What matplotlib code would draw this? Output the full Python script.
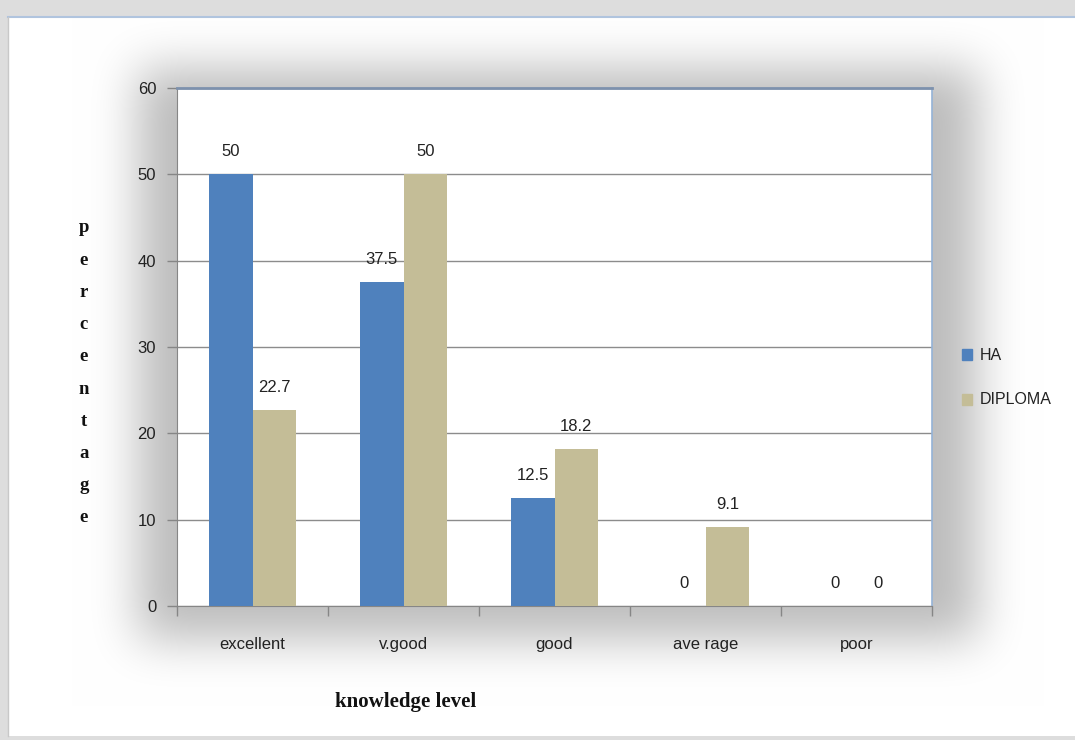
import matplotlib
matplotlib.use('Agg')
import matplotlib.pyplot as plt
import numpy as np
from matplotlib.patches import Rectangle

# ── Data ──────────────────────────────────────────────────────────────────────
categories = ['excellent', 'v.good', 'good', 'ave rage', 'poor']
ha_vals = [50, 37.5, 12.5, 0, 0]
diploma_vals = [22.7, 50, 18.2, 9.1, 0]
y_ticks = [0, 10, 20, 30, 40, 50, 60]

HA_COLOR = '#4F81BD'
DIP_COLOR = '#C4BD97'
TXT_FONT = ['Liberation Sans Narrow', 'Liberation Sans', 'DejaVu Sans']
SERIF = ['Liberation Serif', 'DejaVu Serif']

W, H = 1075, 740
fig = plt.figure(figsize=(W / 100, H / 100), dpi=100)
fig.patch.set_facecolor('#dedede')

# ── Background panel with soft shadow behind the plot area ───────────────────
bg = fig.add_axes([0, 0, 1, 1], zorder=0)
bg.set_xlim(0, W)
bg.set_ylim(H, 0)
bg.axis('off')

panel = np.zeros((H, W))
panel[18:736, 8:W] = 1
mask = np.zeros((H, W))
mask[68:640, 138:978] = 1


def box_blur(a, r, n=3):
    for _ in range(n):
        k = np.ones(2 * r + 1) / (2 * r + 1)
        a = np.apply_along_axis(lambda m: np.convolve(m, k, mode='same'), 0, a)
        a = np.apply_along_axis(lambda m: np.convolve(m, k, mode='same'), 1, a)
    return a


shadow = box_blur(mask, 22)
img = 1 - 0.26 * shadow
rgb = np.dstack([img, img, img])
rgb[panel == 0] = [0.87, 0.87, 0.87]
bg.imshow(rgb, extent=[0, W, H, 0], aspect='auto', interpolation='bilinear')
bg.plot([8, W], [17, 17], color='#b0c4de', lw=1.5)
bg.plot([8, 8], [17, 736], color='#c8c8c8', lw=1)

# ── Main axes ────────────────────────────────────────────────────────────────
ax = fig.add_axes([177 / W, 1 - 606 / H, 755 / W, 518 / H], zorder=2)
ax.set_facecolor('white')

x = np.arange(len(categories))
bw = 0.29
b1 = ax.bar(x - bw / 2, ha_vals, bw, color=HA_COLOR, zorder=3)
b2 = ax.bar(x + bw / 2, diploma_vals, bw, color=DIP_COLOR, zorder=3)

for bars, vals in ((b1, ha_vals), (b2, diploma_vals)):
    for rect, v in zip(bars, vals):
        ax.annotate(f'{v:g}', (rect.get_x() + rect.get_width() / 2, v),
                    xytext=(0, 11), textcoords='offset points',
                    ha='center', va='bottom', fontsize=12, family=TXT_FONT,
                    color='#222222', zorder=4)

ax.set_xlim(-0.5, len(categories) - 0.5)
ax.set_ylim(0, 60)
ax.set_yticks(y_ticks)
ax.set_yticklabels([str(t) for t in y_ticks], family=TXT_FONT, fontsize=12)
ax.set_xticks(x)
ax.set_xticklabels(categories, family=TXT_FONT, fontsize=12)
ax.set_xticks(np.arange(-0.5, len(categories)), minor=True)
ax.tick_params(axis='x', which='major', length=0, pad=22, colors='#222222')
ax.tick_params(axis='x', which='minor', length=7, color='#868686', width=1)
ax.tick_params(axis='y', length=7, color='#868686', width=1, pad=8,
               colors='#222222')
ax.tick_params(axis='y', which='both', color='#868686')
ax.yaxis.grid(True, color='#8c8c8c', lw=1)
ax.set_axisbelow(True)

ax.spines['left'].set_color('#868686')
ax.spines['bottom'].set_color('#868686')
ax.spines['top'].set_color('#7d91ad')
ax.spines['top'].set_linewidth(2)
ax.spines['right'].set_color('#95b3d7')
ax.spines['right'].set_linewidth(1.2)

# ── Legend ───────────────────────────────────────────────────────────────────
for i, (name, col) in enumerate((('HA', HA_COLOR), ('DIPLOMA', DIP_COLOR))):
    yy = 355 + i * 45
    bg.add_patch(Rectangle((962, yy - 6), 10, 11, color=col, zorder=5))
    bg.text(980, yy, name, fontsize=11.5, family=TXT_FONT, va='center',
            ha='left', color='#222222', zorder=5)

# ── Axis titles ──────────────────────────────────────────────────────────────
for i, ch in enumerate('percentage'):
    bg.text(84, 228 + i * 32.2, ch, fontsize=13.5, family=SERIF,
            fontweight='bold', ha='center', va='center', color='#111111',
            zorder=5)
bg.text(406, 702, 'knowledge level', fontsize=15, family=SERIF,
        fontweight='bold', ha='center', va='center', color='#111111',
        zorder=5)

fig.savefig('out.png', dpi=100)
